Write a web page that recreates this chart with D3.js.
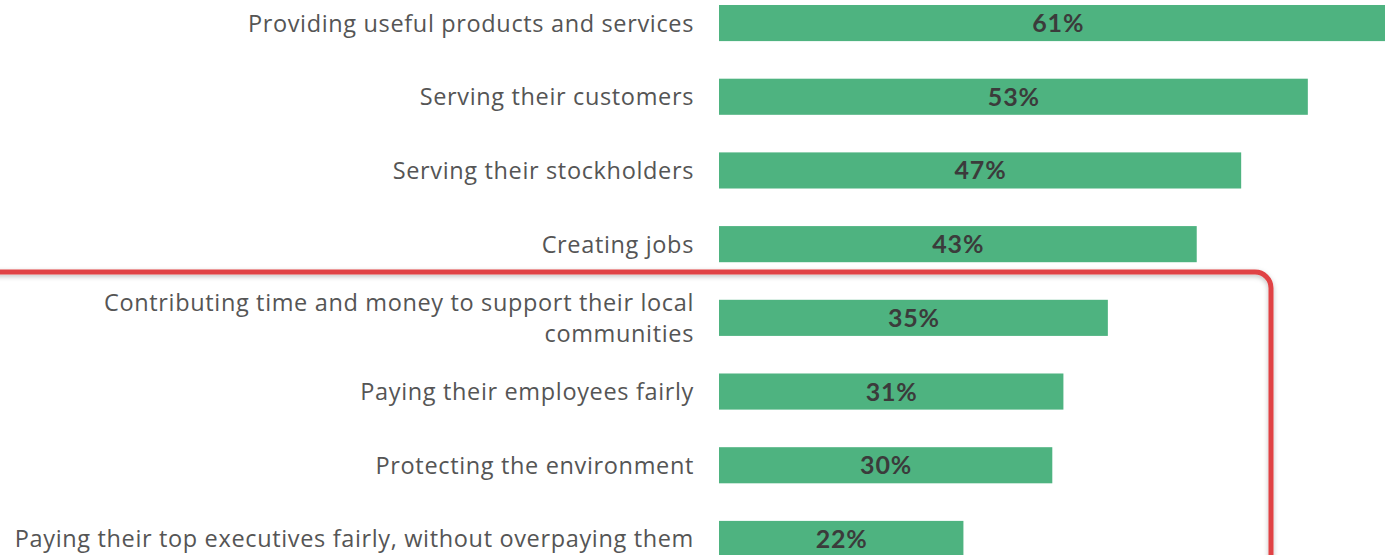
<!DOCTYPE html>
<html><head><meta charset="utf-8">
<script src="https://d3js.org/d3.v7.min.js"></script>
<style>
html,body{margin:0;padding:0;background:#fff;overflow:hidden;}
svg{display:block;}
</style></head>
<body>
<svg id="chart" width="1385" height="555"></svg>
<script>
const categories = [
  "Providing useful products and services",
  "Serving their customers",
  "Serving their stockholders",
  "Creating jobs",
  "Contributing time and money to support their local communities",
  "Paying their employees fairly",
  "Protecting the environment",
  "Paying their top executives fairly, without overpaying them"
];
const values = [61, 53, 47, 43, 35, 31, 30, 22];

(function(){
const W = 1385, H = 555;
const svg = d3.select("#chart");
const defs = svg.append("defs");
const f = defs.append("filter").attr("id","sh").attr("x","-10%").attr("y","-10%").attr("width","120%").attr("height","130%");
f.append("feDropShadow").attr("dx",0).attr("dy",2).attr("stdDeviation",2.5).attr("flood-color","#000").attr("flood-opacity",0.25);

const x = d3.scaleLinear().domain([0, 1]).range([719, 730.11]);
const y = d3.scaleBand().domain(categories).range([-13.8, 575.8]).paddingInner(0.51).paddingOuter(0.255);

const g = svg.append("g");
g.selectAll("rect.bar").data(categories).join("rect")
  .attr("class","bar")
  .attr("x", x(0))
  .attr("y", d => y(d))
  .attr("width", (d,i) => x(values[i]) - x(0))
  .attr("height", y.bandwidth())
  .attr("fill", "#4eb380");

g.selectAll("text.val").data(categories).join("text")
  .attr("class","val")
  .attr("x", (d,i) => (x(0) + x(values[i]))/2 + 0.4)
  .attr("y", d => y(d) + y.bandwidth()/2)
  .attr("dy","0.36em")
  .attr("text-anchor","middle")
  .attr("font-family","Lato, sans-serif")
  .attr("font-weight","bold")
  .attr("font-size","25px")
  .attr("letter-spacing","0.8px")
  .attr("fill","#3b3b3b")
  .text((d,i) => values[i] + "%");

const labels = g.selectAll("text.lab").data(categories).join("text")
  .attr("class","lab")
  .attr("text-anchor","end")
  .attr("font-family","'Open Sans', sans-serif")
  .attr("font-size","23.5px")
  .attr("letter-spacing","0.65px")
  .attr("fill","#555")
  .attr("x", 694);

labels.each(function(d){
  const t = d3.select(this);
  const words = d.split(" ");
  const lines = [];
  let line = [];
  const tmp = t.append("tspan");
  for (const w of words) {
    line.push(w);
    tmp.text(line.join(" "));
    if (tmp.node().getComputedTextLength() > 700 && line.length > 1) {
      line.pop();
      lines.push(line.join(" "));
      line = [w];
    }
  }
  lines.push(line.join(" "));
  tmp.remove();
  const lh = 31;
  const cy = y(d) + y.bandwidth()/2;
  const startY = cy - (lines.length-1)*lh/2;
  lines.forEach((l,i) => {
    t.append("tspan").attr("x",694).attr("y", startY + i*lh).attr("dy","0.36em").text(l);
  });
});

// highlight box
const r = 16, boxTop = 272, boxRight = 1271;
svg.append("path")
  .attr("d", `M-10,${boxTop} L${boxRight-r},${boxTop} A${r},${r} 0 0 1 ${boxRight},${boxTop+r} L${boxRight},${H+20}`)
  .attr("fill","none")
  .attr("stroke","#e04244")
  .attr("stroke-width",5)
  .attr("filter","url(#sh)");
})();
</script>
</body></html>
